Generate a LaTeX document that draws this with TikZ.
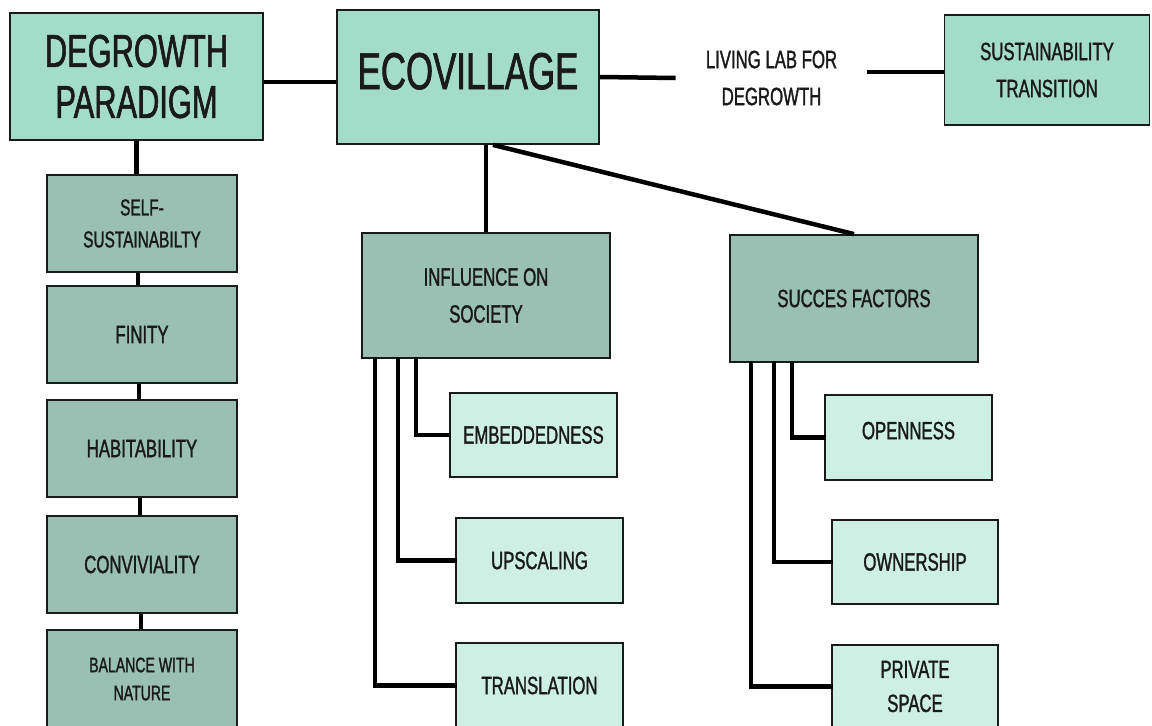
\documentclass[tikz,border=0pt]{standalone}
\usepackage{fontspec}
\setmainfont{Liberation Sans}[FakeStretch=0.67, FakeBold=1.3]
\definecolor{mintA}{RGB}{163,220,201}
\definecolor{sageB}{RGB}{153,192,178}
\definecolor{mintC}{RGB}{206,240,228}
\definecolor{ink}{RGB}{26,26,26}
\tikzset{
  box/.style={draw=ink, line width=1.8pt, inner sep=0pt, align=center, text=ink},
  topbox/.style={box, fill=mintA},
  midbox/.style={box, fill=sageB},
  leafbox/.style={box, fill=mintC},
  conn/.style={draw=black, line width=4.5pt},
  big/.style={font=\fontsize{46}{51}\selectfont},
  huge/.style={font=\fontsize{52}{56}\selectfont},
  mid/.style={font=\fontsize{25}{37}\selectfont},
  small/.style={font=\fontsize{23}{32}\selectfont},
  tiny/.style={font=\fontsize{21}{28}\selectfont},
}
\begin{document}
\begin{tikzpicture}[x=1pt,y=-1pt]
\useasboundingbox (0,0) rectangle (1152,726);
\clip (0,0) rectangle (1152,726);
\fill[white] (0,0) rectangle (1152,726);

% top row
\node[topbox, big, minimum width=253pt, minimum height=127pt] (degrowth) at (136.5,76.5) {DEGROWTH\\PARADIGM};
\node[topbox, huge, minimum width=262pt, minimum height=134pt] (eco) at (468,77) {\raisebox{12pt}{ECOVILLAGE}};
\node[mid, text=ink, align=center, inner xsep=30pt, inner ysep=0pt] (living) at (771.5,78) {LIVING LAB FOR\\DEGROWTH};
\node[topbox, mid, minimum width=205pt, minimum height=110pt] (sust) at (1047,70) {SUSTAINABILITY\\TRANSITION};

% degrowth column
\node[midbox, small, minimum width=190pt, minimum height=97pt] (self) at (142,223.5) {SELF-\\SUSTAINABILTY};
\node[midbox, mid, minimum width=190pt, minimum height=97pt] (finity) at (142,334.5) {FINITY};
\node[midbox, mid, minimum width=190pt, minimum height=97pt] (habit) at (142,448.5) {HABITABILITY};
\node[midbox, mid, minimum width=190pt, minimum height=97pt] (conv) at (142,564.5) {CONVIVIALITY};
\node[midbox, tiny, minimum width=190pt, minimum height=98pt] (balance) at (142,679) {BALANCE WITH\\NATURE};

% second level
\node[midbox, mid, minimum width=248pt, minimum height=125pt] (influence) at (486,295.5) {INFLUENCE ON\\SOCIETY};
\node[midbox, mid, minimum width=248pt, minimum height=127pt] (succes) at (854,298.5) {SUCCES FACTORS};

% leaves
\node[leafbox, mid, minimum width=167pt, minimum height=84pt] (embed) at (533.5,435) {EMBEDDEDNESS};
\node[leafbox, mid, minimum width=167pt, minimum height=85pt] (upscale) at (539.5,560.5) {UPSCALING};
\node[leafbox, mid, minimum width=167pt, minimum height=85pt] (transl) at (539.5,685.5) {TRANSLATION};
\node[leafbox, mid, minimum width=167pt, minimum height=85pt] (open) at (908.5,437.5) {\raisebox{14pt}{OPENNESS}};
\node[leafbox, mid, minimum width=166pt, minimum height=84pt] (owner) at (915,562) {OWNERSHIP};
\node[leafbox, minimum width=166pt, minimum height=83pt, font=\fontsize{25}{34}\selectfont] (private) at (915,686.5) {PRIVATE\\SPACE};

% connectors along the top
\draw[conn] (degrowth.east |- 0,82) -- (eco.west |- 0,82);
\draw[conn] (eco.east) -- (living.west);
\draw[conn] (living.east |- 0,72) -- (sust.west |- 0,72);

% degrowth column
\draw[conn] (degrowth.south) -- (degrowth.south |- self.north);
\draw[conn] (self.south -| 138,0) -- (finity.north -| 138,0);
\draw[conn] (finity.south -| 139,0) -- (habit.north -| 139,0);
\draw[conn] (habit.south -| 140,0) -- (conv.north -| 140,0);
\draw[conn] (conv.south -| 141,0) -- (balance.north -| 141,0);

% ecovillage branches
\draw[conn] (influence.north |- eco.south) -- (influence.north);
\draw[conn] ([xshift=25pt]eco.south) -- (succes.north);

% influence leaves
\draw[conn, line cap=rect] ([xshift=-70pt]influence.south) |- (embed.west);
\draw[conn, line cap=rect] ([xshift=-88pt]influence.south) |- (upscale.west);
\draw[conn, line cap=rect] ([xshift=-111pt]influence.south) |- (transl.west);

% success factor leaves
\draw[conn, line cap=rect] ([xshift=-62pt]succes.south) |- (open.west);
\draw[conn, line cap=rect] ([xshift=-80pt]succes.south) |- (owner.west);
\draw[conn, line cap=rect] ([xshift=-103pt]succes.south) |- (private.west);
\end{tikzpicture}
\end{document}
